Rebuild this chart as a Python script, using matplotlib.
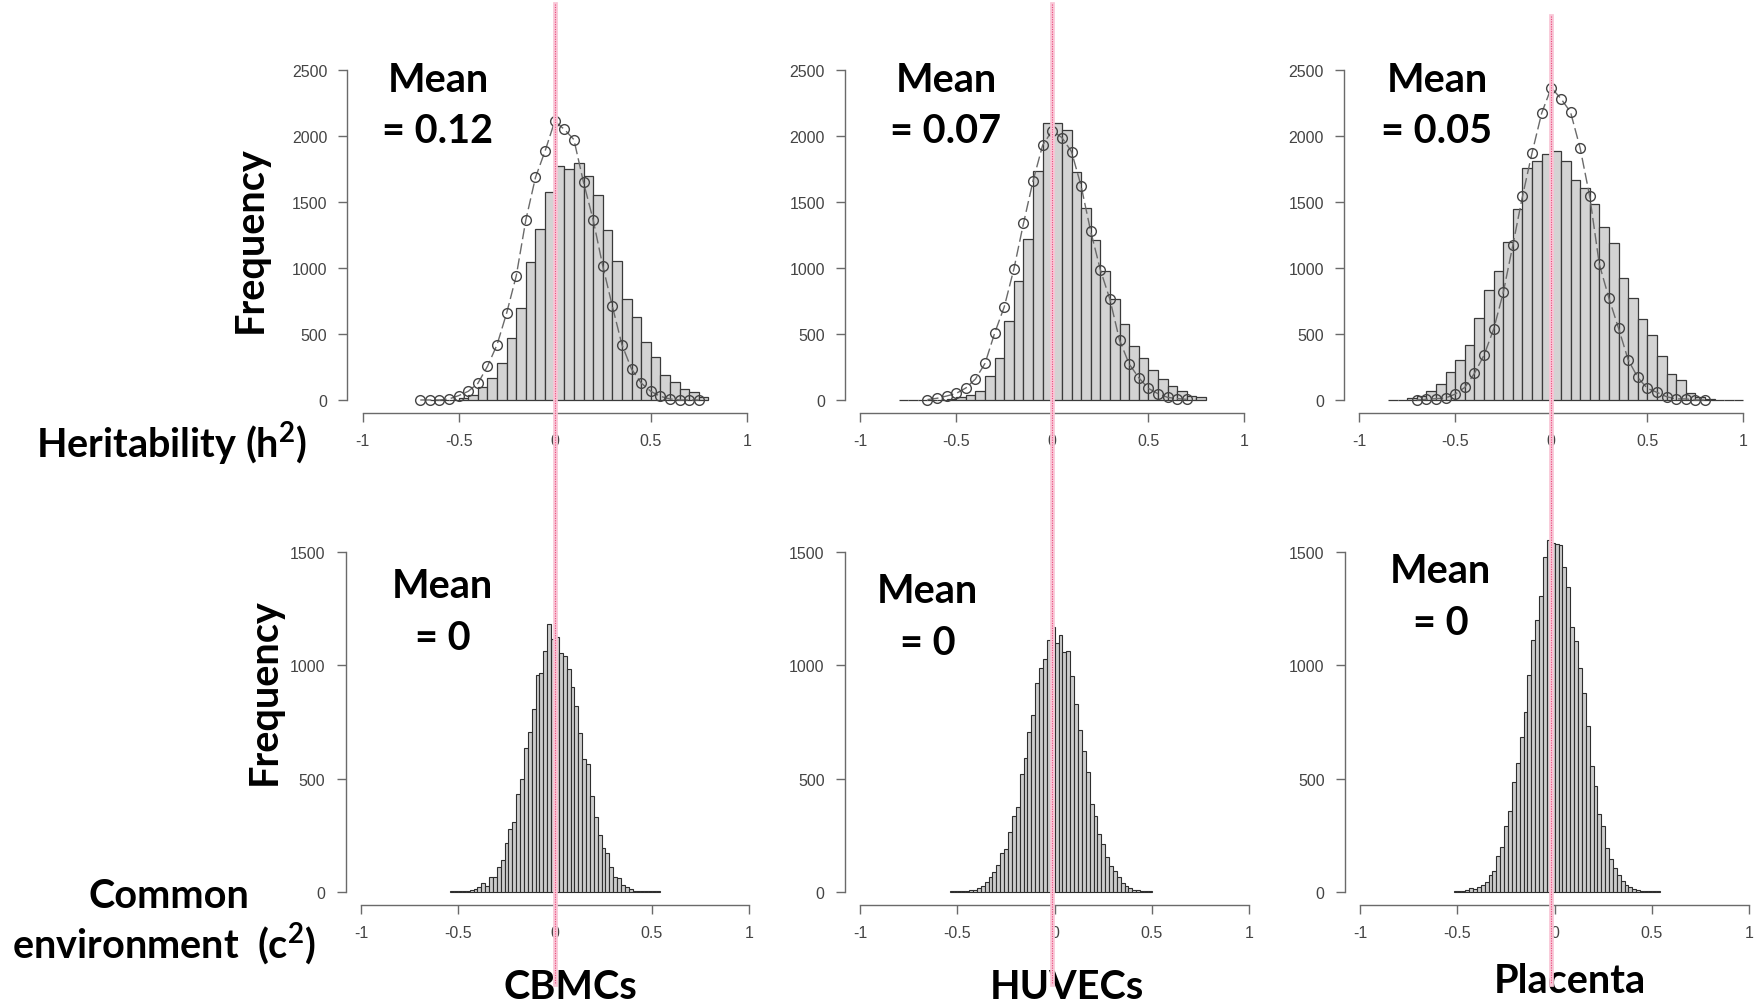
import matplotlib
matplotlib.use('Agg')
import matplotlib.pyplot as plt
import numpy as np
from matplotlib import transforms
from matplotlib.lines import Line2D

W, H, DPI = 1756, 1003, 100

# ---------------- data ----------------
tissues = ["CBMCs", "HUVECs", "Placenta"]

# heritability (h2) histograms, bin width 0.05
h2_bin_width = 0.05
h2_starts = [-0.65, -0.80, -0.85]
cbmc_h2_counts = [0, 0, 2, 12, 40, 96, 166, 280, 467, 696, 1042, 1294, 1572, 1768, 1748,
                  1794, 1695, 1551, 1284, 1050, 764, 631, 437, 325, 192, 134, 83, 63, 25]
huvec_h2_counts = [0, 0, 0, 1, 2, 5, 20, 40, 70, 184, 318, 595, 898, 1219, 1731, 2097, 2097,
                   2044, 1723, 1456, 1214, 979, 767, 573, 411, 315, 227, 159, 108, 71, 33, 25]
plac_h2_counts = [1, 3, 12, 33, 70, 118, 209, 302, 418, 620, 832, 975, 1194, 1444, 1759, 1810,
                  1860, 1885, 1810, 1663, 1603, 1482, 1306, 1185, 927, 771, 613, 494, 333, 197,
                  151, 55, 20, 5, 0, 0, 0]

# dashed reference curves with open circles (points every 0.05)
curve_starts = [-0.70, -0.65, -0.70]
cbmc_curve = [0, 0, 0, 8, 33, 66, 126, 255, 419, 659, 941, 1365, 1685, 1885, 2109, 2049,
              1971, 1648, 1365, 1017, 711, 419, 235, 129, 66, 28, 8, 0, 0, 0]
huvec_curve = [3, 13, 30, 50, 91, 159, 278, 507, 706, 992, 1337, 1660, 1930, 2039, 1986,
               1880, 1620, 1277, 987, 762, 454, 273, 169, 88, 48, 20, 10, 5]
plac_curve = [0, 5, 10, 15, 45, 96, 202, 340, 537, 814, 1174, 1542, 1872, 2172, 2364, 2281,
              2180, 1908, 1542, 1028, 771, 544, 305, 171, 88, 58, 25, 8, 8, 0, 0]

# common environment (c2) histograms, bin width 0.02
c2_bin_width = 0.02
c2_starts = [-0.54, -0.54, -0.52]
cbmc_c2_counts = [1, 1, 2, 3, 4, 7, 12, 19, 37, 25, 63, 63, 108, 141, 215, 277, 306, 432, 498,
                  635, 704, 809, 958, 967, 1062, 1183, 1117, 1127, 1054, 1043, 984, 903, 822,
                  701, 587, 564, 424, 329, 251, 192, 171, 108, 66, 59, 29, 22, 12, 4, 2, 1, 3,
                  2, 1, 1]
huvec_c2_counts = [1, 1, 2, 3, 4, 6, 9, 16, 27, 41, 66, 85, 118, 169, 189, 262, 336, 373, 520,
                   589, 707, 781, 921, 987, 1028, 1114, 1168, 1100, 1135, 1058, 1065, 955, 830,
                   716, 623, 527, 388, 336, 255, 211, 152, 115, 90, 63, 37, 27, 15, 9, 6, 4, 3, 1]
plac_c2_counts = [1, 2, 4, 7, 18, 12, 22, 31, 41, 75, 90, 159, 196, 292, 358, 483, 570, 685,
                  796, 958, 1112, 1201, 1308, 1478, 1554, 1540, 1537, 1532, 1437, 1348, 1168,
                  1107, 989, 877, 734, 557, 466, 343, 292, 193, 144, 103, 75, 46, 31, 19, 13, 7,
                  4, 3, 1, 1, 1]

h2_means = ["0.12", "0.07", "0.05"]
c2_means = ["0", "0", "0"]
mean_line_x = 0.0

x_ticks = [-1, -0.5, 0, 0.5, 1]
x_tick_labels = ["-1", "-0.5", "0", "0.5", "1"]
h2_y_ticks = [0, 500, 1000, 1500, 2000, 2500]
c2_y_ticks = [0, 500, 1000, 1500]

# ---------------- styling ----------------
plt.rcParams['font.family'] = ['Liberation Sans', 'DejaVu Sans']
plt.rcParams['mathtext.fontset'] = 'custom'
plt.rcParams['mathtext.bf'] = 'Lato:bold'
plt.rcParams['mathtext.rm'] = 'Lato:bold'
BIG = dict(family=['Lato', 'DejaVu Sans'], fontweight='bold', fontsize=28.5, color='black')

fig = plt.figure(figsize=(W / DPI, H / DPI), dpi=DPI)


def add_ax(l, r, t, b):
    return fig.add_axes([l / W, 1 - b / H, (r - l) / W, (b - t) / H])


def style_axis(ax, ymax, yticks):
    ax.set_xlim(-1.08, 1.08)
    ax.set_ylim(-0.04 * ymax, 1.04 * ymax)
    ax.patch.set_visible(False)
    for s in ['top', 'right']:
        ax.spines[s].set_visible(False)
    for s in ['left', 'bottom']:
        ax.spines[s].set_color('#6a6a6a')
        ax.spines[s].set_linewidth(1.0)
    ax.spines['left'].set_bounds(0, ymax)
    ax.spines['bottom'].set_bounds(-1, 1)
    ax.set_xticks(x_ticks)
    ax.set_xticklabels(x_tick_labels)
    ax.set_yticks(yticks)
    ax.set_yticklabels([str(v) for v in yticks])
    ax.tick_params(length=6.5, width=1.0, color='#6a6a6a', labelcolor='#444444',
                   labelsize=11.5, pad=8)


top_px = [(347.3, 762.1), (844.9, 1259.7), (1343.9, 1758.7)]
bot_px = [(345.5, 764.5), (844.8, 1264.5), (1344.8, 1764.5)]

h2_counts = [cbmc_h2_counts, huvec_h2_counts, plac_h2_counts]
curves = [cbmc_curve, huvec_curve, plac_curve]
c2_counts = [cbmc_c2_counts, huvec_c2_counts, plac_c2_counts]

top_axes = []
for i in range(3):
    ax = add_ax(top_px[i][0], top_px[i][1], 57.5, 414.2)
    style_axis(ax, 2500, h2_y_ticks)
    counts = h2_counts[i]
    edges = h2_starts[i] + h2_bin_width * np.arange(len(counts))
    ax.bar(edges, counts, width=h2_bin_width, align='edge', color='#d3d3d3',
           edgecolor='#3a3a3a', linewidth=0.9, zorder=2)
    cy = curves[i]
    cx = curve_starts[i] + h2_bin_width * np.arange(len(cy))
    ax.plot(cx, cy, color='#6a6a6a', lw=1.0, dashes=(8, 3), marker='o', ms=7,
            mfc='none', mec='#444444', mew=1.0, zorder=3)
    top_axes.append(ax)

for i in range(3):
    ax = add_ax(bot_px[i][0], bot_px[i][1], 539.7, 906.3)
    style_axis(ax, 1500, c2_y_ticks)
    counts = c2_counts[i]
    edges = c2_starts[i] + c2_bin_width * np.arange(len(counts))
    ax.bar(edges, counts, width=c2_bin_width, align='edge', color='#cccccc',
           edgecolor='#2e2e2e', linewidth=0.8, zorder=2)

# pink mean lines spanning both rows
for ax, y0 in zip(top_axes, [5, 5, 17]):
    tr = transforms.blended_transform_factory(ax.transData, fig.transFigure)
    ys = [1 - y0 / H, 1 - 985 / H]
    fig.add_artist(Line2D([mean_line_x, mean_line_x], ys, transform=tr,
                          color='#f9c6d6', lw=3.4, zorder=10))
    fig.add_artist(Line2D([mean_line_x, mean_line_x], ys, transform=tr,
                          color='#ea4b7f', lw=0.8, linestyle=(0, (1, 1.2)), zorder=11))

# mean annotations (x center, baseline y) in pixels
top_mean_x = [438, 946, 1437]
for i in range(3):
    fig.text(top_mean_x[i] / W, 1 - 92 / H, "Mean", ha='center', va='baseline', **BIG)
    fig.text(top_mean_x[i] / W, 1 - 143 / H, "= " + h2_means[i], ha='center', va='baseline', **BIG)

bot_mean_x = [442, 927, 1440]
bot_mean_y = [598, 603, 583]
for i in range(3):
    fig.text(bot_mean_x[i] / W, 1 - bot_mean_y[i] / H, "Mean", ha='center', va='baseline', **BIG)
    fig.text((bot_mean_x[i] + 1) / W, 1 - (bot_mean_y[i] + 52) / H, "= " + c2_means[i],
             ha='center', va='baseline', **BIG)

# row / column labels
fig.text(250 / W, 1 - 240 / H, "Frequency", rotation=90, ha='center', va='center', **BIG)
fig.text(264 / W, 1 - 692 / H, "Frequency", rotation=90, ha='center', va='center', **BIG)
fig.text(172 / W, 1 - 458 / H, r"Heritability (h$^{\mathbf{2}}$)", ha='center', va='baseline', **BIG)
fig.text(169 / W, 1 - 908 / H, "Common", ha='center', va='baseline', **BIG)
fig.text(164 / W, 1 - 958 / H, r"environment  (c$^{\mathbf{2}}$)", ha='center', va='baseline', **BIG)

col_x = [570, 1067, 1570]
col_y = [999, 999, 993]
for name, cxp, cyp in zip(tissues, col_x, col_y):
    fig.text(cxp / W, 1 - cyp / H, name, ha='center', va='baseline', **BIG)

fig.savefig("out.png", dpi=DPI)
